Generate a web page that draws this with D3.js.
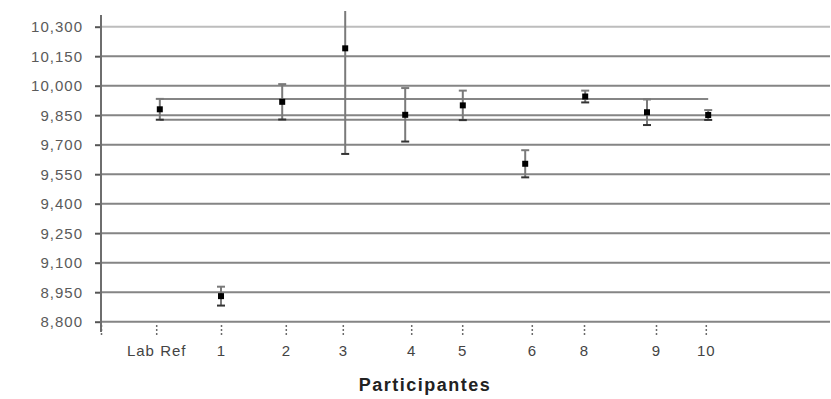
<!DOCTYPE html>
<html>
<head>
<meta charset="utf-8">
<script src="https://cdn.jsdelivr.net/npm/d3@7"></script>
<style>
  html, body { margin: 0; padding: 0; background: #fff; }
  svg { display: block; }
  text { font-family: "Liberation Sans", Arial, sans-serif; }
</style>
</head>
<body>
<div id="chart"></div>
<script>
// ---- data ----
const participants = ["Lab Ref", "1", "2", "3", "4", "5", "6", "8", "9", "10"];
// position of each participant on the horizontal (unit) axis
const pointPos = [0.98, 2.0, 3.02, 4.07, 5.07, 6.03, 7.07, 8.07, 9.1, 10.12];
// position of each category label / tick
const labelPos = [0.92, 2.0, 3.08, 4.03, 5.17, 6.02, 7.18, 8.05, 9.25, 10.08];
const values = [9880, 8930, 9918, 10190, 9852, 9900, 9603, 9945, 9865, 9851];
const uncertainties = [53, 48, 90, 537, 136, 75, 69, 30, 65, 25];
const yTicks = [8800, 8950, 9100, 9250, 9400, 9550, 9700, 9850, 10000, 10150, 10300];
const yTickLabels = ["8,800", "8,950", "9,100", "9,250", "9,400", "9,550", "9,700", "9,850", "10,000", "10,150", "10,300"];
const xTitle = "Participantes";

// ---- layout ----
const W = 831, H = 399;
const plotLeft = 101, plotRight = 830, plotTop = 11, plotBottom = 322;

const x = d3.scaleLinear().domain([0, 12.15]).range([plotLeft, plotRight]);
const y = d3.scaleLinear().domain([8800, 10300]).range([321.7, 26.7]);

const svg = d3.select("#chart").append("svg").attr("width", W).attr("height", H);

svg.append("defs").append("clipPath").attr("id", "plotClip")
  .append("rect").attr("x", plotLeft).attr("y", plotTop)
  .attr("width", plotRight - plotLeft).attr("height", plotBottom - plotTop + 4);

// gridlines
const gridColor = "#858585";
svg.append("g").selectAll("line").data(yTicks).join("line")
  .attr("x1", plotLeft).attr("x2", plotRight)
  .attr("y1", d => y(d)).attr("y2", d => y(d))
  .attr("stroke", (d, i) => (i === yTicks.length - 1 ? "#bdbdbd" : gridColor))
  .attr("stroke-width", 2);

// y axis
const yAxis = d3.axisLeft(y).tickValues(yTicks)
  .tickFormat((d, i) => yTickLabels[i]).tickSize(6).tickPadding(12);
const gy = svg.append("g").attr("transform", `translate(${plotLeft},0)`).call(yAxis);
gy.select(".domain").remove();
gy.selectAll(".tick line").attr("stroke", "#555").attr("stroke-width", 2);
gy.selectAll(".tick text").attr("fill", "#5a5a5a").attr("font-size", 15)
  .attr("letter-spacing", "1px");
svg.append("line").attr("x1", plotLeft).attr("x2", plotLeft)
  .attr("y1", 15).attr("y2", plotBottom + 10)
  .attr("stroke", "#6e6e6e").attr("stroke-width", 2);

// x axis ticks + labels
const xAxis = d3.axisBottom(x).tickValues([0].concat(labelPos))
  .tickFormat((d, i) => (i === 0 ? "" : participants[i - 1])).tickSize(11).tickPadding(9);
const gx = svg.append("g").attr("transform", `translate(0,${plotBottom + 3})`).call(xAxis);
gx.select(".domain").remove();
gx.selectAll(".tick line").attr("stroke", "#6a6a6a").attr("stroke-width", 1.5)
  .attr("stroke-dasharray", "2,2");
gx.selectAll(".tick text").attr("fill", "#444").attr("font-size", 15)
  .attr("letter-spacing", "1px");

// reference band lines (Lab Ref ± U)
const refLo = values[0] - uncertainties[0], refHi = values[0] + uncertainties[0];
svg.append("g").selectAll("line").data([refHi, refLo]).join("line")
  .attr("x1", x(pointPos[0])).attr("x2", x(pointPos[pointPos.length - 1]))
  .attr("y1", d => y(d)).attr("y2", d => y(d))
  .attr("stroke", gridColor).attr("stroke-width", 2);

// error bars
const pts = participants.map((p, i) => ({ p, x: pointPos[i], v: values[i], u: uncertainties[i] }));
const eb = svg.append("g").attr("clip-path", "url(#plotClip)");
const barColor = "#7a7a7a";
eb.selectAll("line.bar").data(pts).join("line").attr("class", "bar")
  .attr("x1", d => x(d.x)).attr("x2", d => x(d.x))
  .attr("y1", d => y(d.v + d.u)).attr("y2", d => y(d.v - d.u))
  .attr("stroke", barColor).attr("stroke-width", 2);
eb.selectAll("line.capTop").data(pts).join("line").attr("class", "capTop")
  .attr("x1", d => x(d.x) - 4).attr("x2", d => x(d.x) + 4)
  .attr("y1", d => y(d.v + d.u)).attr("y2", d => y(d.v + d.u))
  .attr("stroke", barColor).attr("stroke-width", 2);
eb.selectAll("line.capBot").data(pts).join("line").attr("class", "capBot")
  .attr("x1", d => x(d.x) - 4).attr("x2", d => x(d.x) + 4)
  .attr("y1", d => y(d.v - d.u)).attr("y2", d => y(d.v - d.u))
  .attr("stroke", "#333").attr("stroke-width", 2);

// markers
svg.append("g").selectAll("rect").data(pts).join("rect")
  .attr("x", d => x(d.x) - 3).attr("y", d => y(d.v) - 3)
  .attr("width", 6).attr("height", 6).attr("fill", "#000");

// x title
svg.append("text").attr("x", 425).attr("y", 391).attr("text-anchor", "middle")
  .attr("font-size", 18).attr("font-weight", "bold").attr("letter-spacing", "1.5px")
  .attr("fill", "#222").text(xTitle);
</script>
</body>
</html>
